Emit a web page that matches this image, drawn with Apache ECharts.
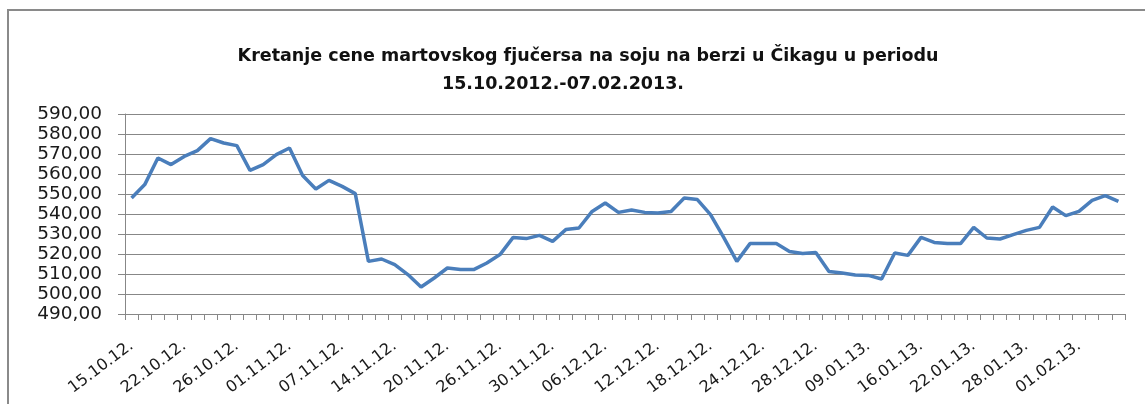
<!DOCTYPE html>
<html>
<head>
<meta charset="utf-8">
<script src="https://cdn.jsdelivr.net/npm/echarts@6/dist/echarts.min.js"></script>
<style>
  html, body { margin: 0; padding: 0; background: #fff; }
  #chart { width: 1145px; height: 404px; }
</style>
</head>
<body>
<div id="chart"></div>
<script>
// March soybean futures, CBOT, 15.10.2012 - 07.02.2013
const dates = [
  "15.10.12.", "16.10.12.", "17.10.12.", "18.10.12.", "22.10.12.", "23.10.12.", "24.10.12.", "25.10.12.",
  "26.10.12.", "29.10.12.", "30.10.12.", "31.10.12.", "01.11.12.", "02.11.12.", "05.11.12.", "06.11.12.",
  "07.11.12.", "08.11.12.", "09.11.12.", "13.11.12.", "14.11.12.", "15.11.12.", "16.11.12.", "19.11.12.",
  "20.11.12.", "21.11.12.", "23.11.12.", "25.11.12.", "26.11.12.", "27.11.12.", "28.11.12.", "29.11.12.",
  "30.11.12.", "03.12.12.", "04.12.12.", "05.12.12.", "06.12.12.", "07.12.12.", "10.12.12.", "11.12.12.",
  "12.12.12.", "13.12.12.", "14.12.12.", "17.12.12.", "18.12.12.", "19.12.12.", "20.12.12.", "21.12.12.",
  "24.12.12.", "25.12.12.", "26.12.12.", "27.12.12.", "28.12.12.", "31.12.12.", "03.01.13.", "07.01.13.",
  "09.01.13.", "10.01.13.", "11.01.13.", "14.01.13.", "16.01.13.", "17.01.13.", "18.01.13.", "21.01.13.",
  "22.01.13.", "23.01.13.", "24.01.13.", "25.01.13.", "28.01.13.", "29.01.13.", "30.01.13.", "31.01.13.",
  "01.02.13.", "04.02.13.", "05.02.13.", "07.02.13."
];

const prices = [
  548.0, 554.7, 568.0, 564.7, 568.8, 571.7, 577.7, 575.5,
  574.2, 561.8, 564.7, 569.7, 573.0, 559.2, 552.5, 556.8,
  553.8, 550.2, 516.3, 517.5, 514.7, 509.7, 503.5, 508.0,
  513.0, 512.2, 512.2, 515.5, 519.7, 528.3, 527.7, 529.3,
  526.3, 532.2, 533.0, 541.3, 545.5, 540.8, 542.0, 540.8,
  540.5, 541.3, 548.0, 547.2, 539.7, 528.3, 516.3, 525.2,
  525.2, 525.2, 521.3, 520.2, 520.8, 511.3, 510.5, 509.5,
  509.3, 507.5, 520.5, 519.3, 528.3, 525.8, 525.2, 525.2,
  533.3, 528.0, 527.5, 529.7, 531.8, 533.3, 543.5, 539.2,
  541.3, 546.8, 549.2, 546.3
];

const titleLine1 = "Kretanje cene martovskog fjučersa na soju na berzi u Čikagu u periodu";
const titleLine2 = "15.10.2012.-07.02.2013.";

const chart = echarts.init(document.getElementById("chart"), null, { renderer: "canvas" });
const gridCol = "#878787";

chart.setOption({
  animation: false,
  backgroundColor: "#ffffff",
  title: [
    { text: titleLine1, left: 583, top: 42, textAlign: "center",
      textStyle: { fontFamily: "DejaVu Sans", fontWeight: "bold", fontSize: 17.5, color: "#111" } },
    { text: titleLine2, left: 558, top: 70, textAlign: "center",
      textStyle: { fontFamily: "DejaVu Sans", fontWeight: "bold", fontSize: 17.5, color: "#111" } },
  ],
  graphic: [
    { type: "polyline", silent: true,
      shape: { points: [[8, 430], [8, 10], [1160, 10]] },
      style: { stroke: "#8a8a8a", lineWidth: 2, fill: null } },
  ],
  grid: { left: 125, right: 20, top: 114, bottom: 90 },
  xAxis: {
    type: "category",
    data: dates,
    boundaryGap: true,
    axisLine: { lineStyle: { color: gridCol, width: 1 } },
    axisTick: { show: true, interval: 0, length: 6, lineStyle: { color: gridCol } },
    axisLabel: {
      interval: 3, rotate: 37, margin: 30,
      fontFamily: "DejaVu Sans", fontSize: 16, color: "#1a1a1a",
    },
    splitLine: { show: false },
  },
  yAxis: {
    type: "value",
    min: 490, max: 590, interval: 10,
    axisLine: { show: true, lineStyle: { color: gridCol, width: 1 } },
    axisTick: { show: true, length: 7, lineStyle: { color: gridCol } },
    axisLabel: {
      margin: 23, fontFamily: "DejaVu Sans", fontSize: 18.5, color: "#1a1a1a",
      formatter: (v) => v.toFixed(2).replace(".", ","),
    },
    splitLine: { lineStyle: { color: gridCol, width: 1 } },
  },
  series: [
    { type: "line", data: prices, symbol: "none", smooth: false,
      lineStyle: { color: "#4a7ebb", width: 3.5 } },
  ],
});
</script>
</body>
</html>
